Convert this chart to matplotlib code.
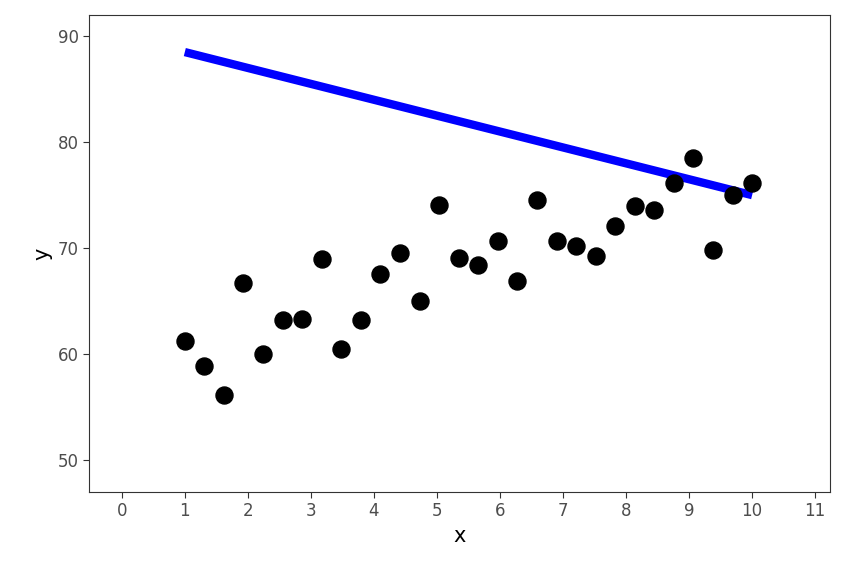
import numpy as np
import matplotlib.pyplot as plt

# points
x_values = np.linspace(1, 10, 30)
y_values = [61.2, 58.9, 56.1, 66.7, 60.0, 63.2, 63.3, 69.0, 60.5, 63.2,
            67.6, 69.5, 65.0, 74.1, 69.1, 68.4, 70.7, 66.9, 74.5, 70.7,
            70.2, 69.3, 72.1, 74.0, 73.6, 76.1, 78.5, 69.8, 75.0, 76.1]

# blue line end points
line_x = [1, 10]
line_y = [88.5, 75.0]

fig = plt.figure(figsize=(8.64, 5.76), dpi=100)
ax = fig.add_axes([0.103, 0.146, 0.858, 0.828])

ax.plot(line_x, line_y, color='blue', linewidth=6, solid_capstyle='butt', zorder=2)
ax.scatter(x_values, y_values, s=150, color='black', zorder=3)

ax.set_xlim(-0.52, 11.24)
ax.set_ylim(47.0, 92.0)
ax.set_xticks(range(0, 12))
ax.set_yticks([50, 60, 70, 80, 90])

for s in ax.spines.values():
    s.set_color('#333333')
    s.set_linewidth(0.8)
ax.tick_params(colors='#333333', labelcolor='#4d4d4d', labelsize=12, length=4)

ax.set_xlabel("x", fontsize=15)
ax.set_ylabel("y", fontsize=15)

fig.savefig("out.png", dpi=100)
